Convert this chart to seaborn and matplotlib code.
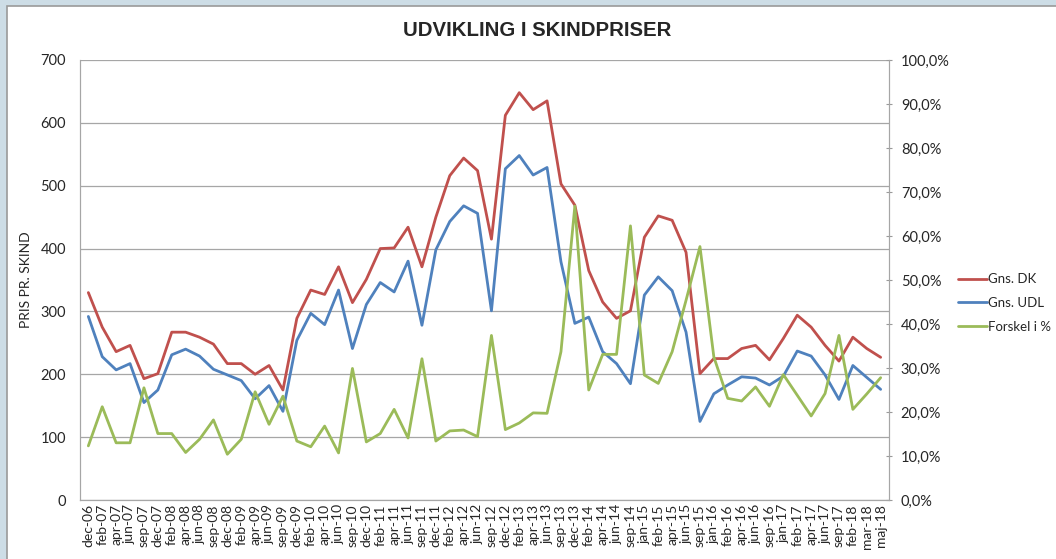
import numpy as np
import pandas as pd
import matplotlib
matplotlib.use("Agg")
import matplotlib.pyplot as plt
from matplotlib.patches import Rectangle
from matplotlib.ticker import FuncFormatter, MultipleLocator
import seaborn as sns

months = ["dec-06", "feb-07", "apr-07", "jun-07", "sep-07", "dec-07", "feb-08", "apr-08",
          "jun-08", "sep-08", "dec-08", "feb-09", "apr-09", "jun-09", "sep-09", "dec-09",
          "feb-10", "apr-10", "jun-10", "sep-10", "dec-10", "feb-11", "apr-11", "jun-11",
          "sep-11", "dec-11", "feb-12", "apr-12", "jun-12", "sep-12", "dec-12", "feb-13",
          "apr-13", "jun-13", "sep-13", "dec-13", "feb-14", "apr-14", "jun-14", "sep-14",
          "jan-15", "feb-15", "apr-15", "jun-15", "sep-15", "jan-16", "feb-16", "apr-16",
          "jun-16", "sep-16", "jan-17", "feb-17", "apr-17", "jun-17", "sep-17", "feb-18",
          "mar-18", "maj-18"]

gns_dk = [330, 275, 236, 246, 193, 201, 267, 267, 259, 248, 217, 217, 200, 214, 175,
          289, 334, 327, 371, 314, 351, 400, 401, 434, 371, 450, 516, 544, 524, 415,
          612, 648, 621, 635, 503, 469, 365, 315, 289, 301, 418, 452, 445, 394, 201,
          225, 225, 241, 246, 223, 257, 294, 275, 246, 221, 259, 241, 227]

gns_udl = [292, 228, 207, 217, 155, 175, 231, 240, 229, 208, 199, 190, 161, 182, 141,
           254, 297, 279, 334, 241, 311, 346, 331, 380, 278, 398, 443, 468, 456, 301,
           527, 548, 517, 529, 379, 281, 291, 236, 217, 185, 326, 355, 333, 267, 125,
           169, 183, 196, 194, 183, 197, 237, 229, 199, 160, 214, 195, 176]

forskel = [12.3, 21.2, 13.0, 13.0, 25.5, 15.1, 15.1, 10.8, 13.8, 18.2, 10.4, 13.8, 24.6,
           17.2, 23.6, 13.4, 12.1, 16.8, 10.7, 29.9, 13.2, 15.1, 20.6, 14.1, 32.1, 13.4,
           15.7, 15.9, 14.4, 37.4, 16.0, 17.5, 19.8, 19.7, 33.7, 66.8, 25.0, 33.1, 33.1,
           62.3, 28.4, 26.5, 33.7, 45.4, 57.6, 32.5, 23.1, 22.5, 25.7, 21.3, 28.5, 23.8,
           19.1, 24.2, 37.4, 20.6, 24.1, 27.8]

df = pd.DataFrame({"idx": np.arange(len(months)), "dk": gns_dk, "udl": gns_udl,
                   "pct": forskel})

sns.set_style("white")
plt.rcParams["font.family"] = ["Lato", "DejaVu Sans"]

W, H = 1056, 559
fig = plt.figure(figsize=(W / 100, H / 100), dpi=100)
fig.patch.set_facecolor("#cddde6")
# white chart area with grey border, as in the spreadsheet screenshot
fig.patches.append(Rectangle((7 / W, -0.05), 1.2, 1 - 6 / H + 0.05, transform=fig.transFigure,
                             facecolor="white", edgecolor="#9a9a9a", linewidth=1.2, zorder=-5))

ax = fig.add_axes([80 / W, 1 - 500 / H, (889 - 80) / W, 440 / H])
ax.set_facecolor("white")
ax2 = ax.twinx()

red, blue, green = "#c0504d", "#4f81bd", "#9bbb59"
sns.lineplot(data=df, x="idx", y="dk", ax=ax, color=red, linewidth=2.0, label="Gns. DK", legend=False)
sns.lineplot(data=df, x="idx", y="udl", ax=ax, color=blue, linewidth=2.0, label="Gns. UDL", legend=False)
sns.lineplot(data=df, x="idx", y="pct", ax=ax2, color=green, linewidth=2.0, label="Forskel i %", legend=False)

ax.set_xlim(-0.6, len(months) - 0.4)
ax.set_ylim(0, 700)
ax2.set_ylim(0, 100)
ax.yaxis.set_major_locator(MultipleLocator(100))
ax2.yaxis.set_major_locator(MultipleLocator(10))
ax2.yaxis.set_major_formatter(FuncFormatter(lambda v, p: f"{v:.1f}%".replace(".", ",")))

ax.set_xticks(df["idx"])
ax.set_xticklabels(months, rotation=90, fontsize=10)
ax.tick_params(axis="x", length=0, pad=3)
ax.tick_params(axis="y", length=0, labelsize=10.5, pad=10)
ax2.tick_params(axis="y", direction="inout", length=5, color="#9a9a9a", labelsize=10.5, pad=6)

ax.grid(axis="y", color="#a6a6a6", linewidth=0.9)
ax.set_axisbelow(True)
for a in (ax, ax2):
    a.spines["top"].set_visible(False)
    for side in ("left", "right", "bottom"):
        a.spines[side].set_color("#a6a6a6")
ax.set_xlabel("")
ax.set_ylabel("PRIS PR. SKIND", fontsize=10, labelpad=6)
ax2.set_ylabel("")

fig.text(537 / W, 1 - 30 / H, "UDVIKLING I SKINDPRISER", ha="center", va="center",
         fontsize=14.7, fontweight="bold", family=["Liberation Sans", "DejaVu Sans"])

h1, l1 = ax.get_legend_handles_labels()
h2, l2 = ax2.get_legend_handles_labels()
fig.legend(h1 + h2, l1 + l2, loc="center left", bbox_to_anchor=(958 / W, 1 - 303 / H),
           frameon=False, fontsize=9.5, handlelength=2.2, handletextpad=0.1,
           labelspacing=0.9, borderpad=0, borderaxespad=0)

fig.savefig("out.png", dpi=100, facecolor=fig.get_facecolor())
